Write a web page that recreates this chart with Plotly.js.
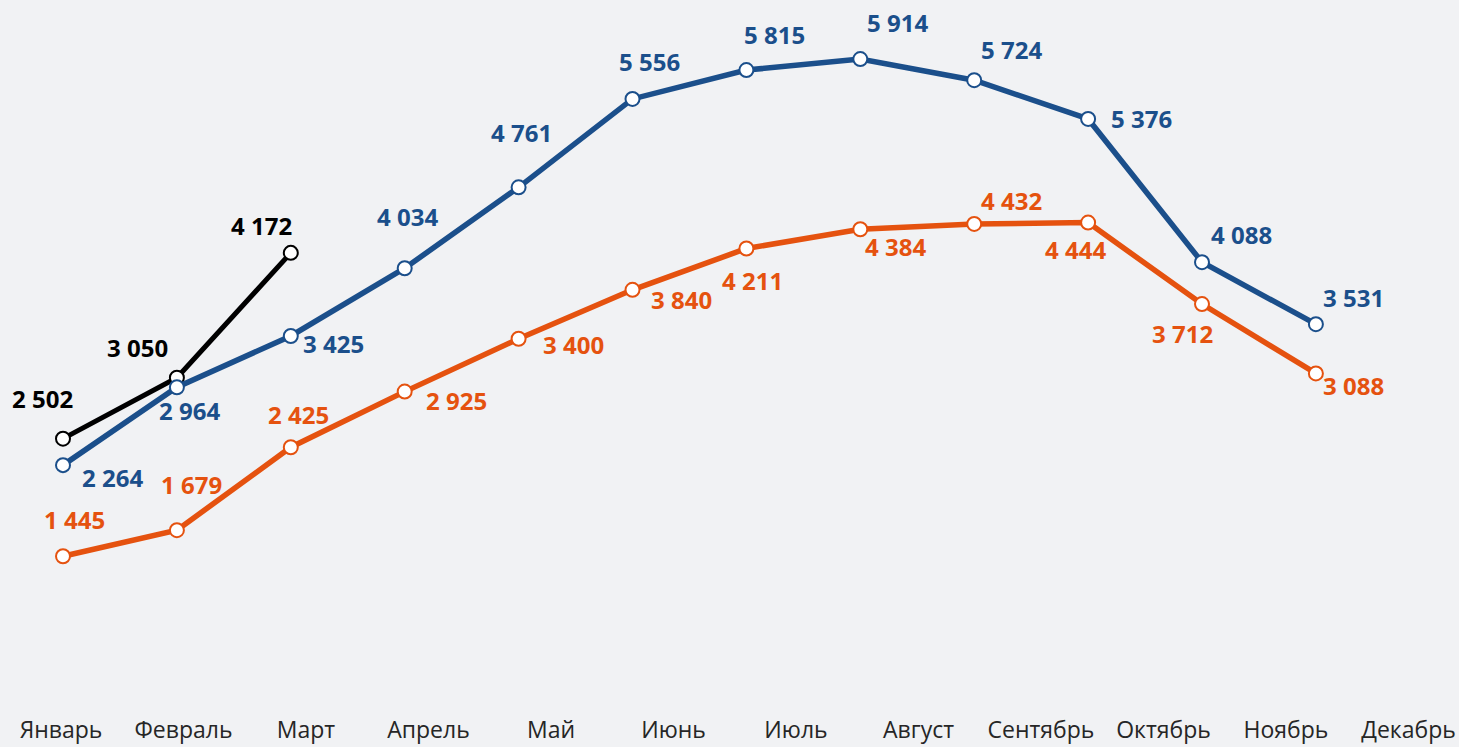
<!DOCTYPE html>
<html>
<head>
<meta charset="utf-8">
<script src="https://cdn.plot.ly/plotly-3.0.1.min.js"></script>
<style>
  html, body { margin: 0; padding: 0; background: #f1f2f4; }
  #chart { width: 1459px; height: 747px; }
</style>
</head>
<body>
<div id="chart"></div>
<script>
// ---- data ----
const months = ["Январь", "Февраль", "Март", "Апрель", "Май", "Июнь", "Июль", "Август", "Сентябрь", "Октябрь", "Ноябрь", "Декабрь"];
const seriesBlue   = [2264, 2964, 3425, 4034, 4761, 5556, 5815, 5914, 5724, 5376, 4088, 3531];
const seriesOrange = [1445, 1679, 2425, 2925, 3400, 3840, 4211, 4384, 4432, 4444, 3712, 3088];
const seriesBlack  = [2502, 3050, 4172];

// ---- styling / label placement (screen px offsets from point to label centre) ----
const COLOR_BLUE = "#1b4f8b";
const COLOR_ORANGE = "#e5520f";
const COLOR_BLACK = "#000000";
const blueOff   = [[49,14],[13,25],[43,10],[3,-50],[3,-53],[17,-35],[28,-34],[37,-35],[37,-29],[53,2],[39,-26],[38,-25]];
const orangeOff = [[11,-35],[15,-44],[8,-31],[52,11],[55,8],[49,12],[6,34],[35,19],[37,-21],[-13,29],[-20,31],[38,14]];
const blackOff  = [[-21,-38],[-39,-28],[-29,-25]];

function fmt(v) { return String(v).replace(/\B(?=(\d{3})+(?!\d))/g, " "); }

function lineTrace(vals, color, width) {
  return {
    type: "scatter",
    mode: "lines+markers",
    x: months.slice(0, vals.length),
    y: vals,
    xaxis: "x",
    yaxis: "y",
    line: { color: color, width: width },
    marker: { size: 14, color: "#ffffff", line: { color: color, width: 2 } },
    hoverinfo: "skip",
    showlegend: false,
    cliponaxis: false
  };
}

const traces = [
  lineTrace(seriesBlack, COLOR_BLACK, 5),
  lineTrace(seriesOrange, COLOR_ORANGE, 5.5),
  lineTrace(seriesBlue, COLOR_BLUE, 5.5),
  { // carries the month tick labels on the label axis
    type: "scatter", mode: "markers", x: months, y: months.map(() => 0),
    xaxis: "x2", yaxis: "y", marker: { opacity: 0 }, hoverinfo: "skip", showlegend: false
  }
];

const annotations = [];
function addLabels(vals, offs, color) {
  vals.forEach((v, i) => {
    annotations.push({
      xref: "x", yref: "y", x: months[i], y: v,
      text: fmt(v), showarrow: false,
      xanchor: "center", yanchor: "middle",
      xshift: offs[i][0], yshift: -offs[i][1] + 2,
      font: { family: "Open Sans", size: 24, color: color, weight: 700 }
    });
  });
}
addLabels(seriesBlue, blueOff, COLOR_BLUE);
addLabels(seriesOrange, orangeOff, COLOR_ORANGE);
addLabels(seriesBlack, blackOff, COLOR_BLACK);

const W = 1459;
const dataStep = 113.9, dataStart = 63;
const labStep = 122.5, labStart = 61;

const layout = {
  width: 1459, height: 747,
  margin: { l: 0, r: 0, t: 0, b: 30, pad: 0 },
  paper_bgcolor: "#f1f2f4",
  plot_bgcolor: "#f1f2f4",
  font: { family: "Open Sans", color: "#262626" },
  showlegend: false,
  xaxis: {
    type: "category", categoryorder: "array", categoryarray: months,
    range: [-dataStart / dataStep, (W - dataStart) / dataStep],
    visible: false, fixedrange: true
  },
  xaxis2: {
    type: "category", categoryorder: "array", categoryarray: months,
    overlaying: "x", anchor: "y", side: "bottom",
    range: [-labStart / labStep, (W - labStart) / labStep],
    showgrid: false, zeroline: false, showline: false, ticks: "",
    ticklabelstandoff: -3,
    tickfont: { family: "Open Sans", size: 23, color: "#262626" },
    fixedrange: true
  },
  yaxis: {
    range: [0, 6445], visible: false, fixedrange: true
  },
  annotations: annotations
};

Plotly.newPlot("chart", traces, layout, { displayModeBar: false, staticPlot: true });
</script>
</body>
</html>
